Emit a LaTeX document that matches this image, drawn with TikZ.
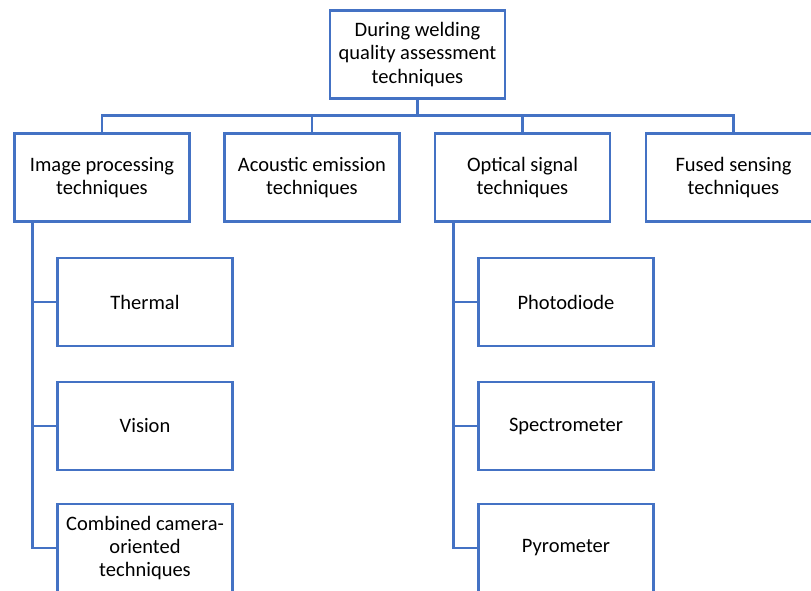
\documentclass[tikz,border=0pt]{standalone}
\usepackage{fontspec}
\setmainfont{Carlito}
\usepackage{tikz}
\definecolor{boxblue}{HTML}{4472C4}

\begin{document}
\begin{tikzpicture}[x=1pt,y=-1pt,
    techbox/.style={draw=boxblue,line width=2.2pt,fill=white,minimum width=175pt,
      minimum height=88pt,inner sep=0pt,align=center,font=\fontsize{20.5}{23.3}\selectfont},
    link/.style={draw=boxblue,line width=2.2pt}]
  \useasboundingbox (0,0) rectangle (811,590);
  \clip (0,0) rectangle (811,590);
  % root of the tree
  \node[techbox] (during) at (417.5,54.5) {During welding\\quality assessment\\techniques};
  \coordinate (bus) at (417.5,115.5);
  \draw[link] (during.south) -- (bus);
  % second row
  \foreach \x/\name/\txt in {
    102/image/Image processing\\techniques,
    312/acoustic/Acoustic emission\\techniques,
    522.5/optical/Optical signal\\techniques
  } {
    \node[techbox] (\name) at (\x,177.5) {\txt};
    \draw[link] (bus) -| (\name.north);
  }
  % last one runs off the page on the right
  \node[techbox,draw=none,outer sep=0pt] (fused) at (733.5,177.5) {Fused sensing\\techniques};
  \draw[link] ([xshift=40pt]fused.north east) -- (fused.north west)
    -- (fused.south west) -- ([xshift=40pt]fused.south east);
  \draw[link] (bus) -| (fused.north);
  % branches under image processing
  \coordinate (imagestem) at (32.5,221.5);
  \foreach \y/\name/\txt in {302/thermal/Thermal, 426/vision/Vision,
    548/combined/Combined camera-\\oriented\\techniques} {
    \node[techbox] (\name) at (145,\y) {\txt};
    \draw[link] (imagestem) |- (\name.west);
  }
  % branches under optical signal
  \coordinate (opticalstem) at (453.5,221.5);
  \foreach \y/\name/\txt in {302/photodiode/Photodiode, 426/spectro/Spectrometer,
    548/pyro/Pyrometer} {
    \node[techbox] (\name) at (566,\y) {\txt};
    \draw[link] (opticalstem) |- (\name.west);
  }
\end{tikzpicture}
\end{document}
